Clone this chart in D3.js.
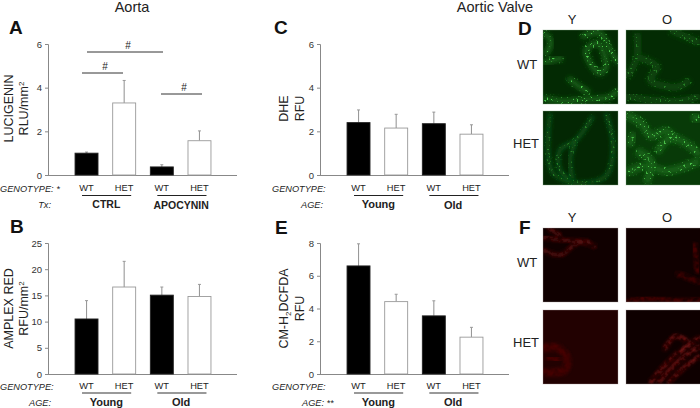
<!DOCTYPE html>
<html><head><meta charset="utf-8">
<script src="https://cdn.jsdelivr.net/npm/d3@7"></script>
<style>html,body{margin:0;padding:0;background:#fff}svg{display:block}text{font-family:"Liberation Sans",Arial,sans-serif;fill:#222}</style>
</head><body><svg id="c" width="700" height="408"></svg>
<script>
const genotypes = ["WT","HET","WT","HET"];
const lucigenin = [1.0,3.3,0.37,1.57];
const lucigeninTop = [1.05,4.33,0.47,2.02];
const amplex = [10.5,16.6,15.05,14.8];
const amplexTop = [14.0,21.5,16.6,17.1];
const dhe = [2.4,2.15,2.35,1.87];
const dheTop = [2.98,2.78,2.88,2.3];
const dcfda = [6.6,4.42,3.55,2.25];
const dcfdaTop = [7.95,4.87,4.47,2.85];
const ticksA = [0,2,4,6], ticksB = [0,5,10,15,20,25], ticksE = [0,2,4,6,8];

const svg = d3.select("#c");
const defs = svg.append("defs");
function speckle(id, freq, slope, cut, blur){
  const f = defs.append("filter").attr("id",id).attr("x","-20%").attr("y","-20%").attr("width","140%").attr("height","140%");
  f.append("feGaussianBlur").attr("in","SourceGraphic").attr("stdDeviation",blur).attr("result","b");
  f.append("feTurbulence").attr("type","fractalNoise").attr("baseFrequency",freq).attr("numOctaves",2).attr("seed",7).attr("result","n");
  f.append("feColorMatrix").attr("in","n").attr("type","matrix")
    .attr("values",`0 0 0 0 0 0 0 0 0 0 0 0 0 0 0 ${slope} 0 0 0 ${cut}`).attr("result","m");
  f.append("feComposite").attr("in","b").attr("in2","m").attr("operator","in");
}
speckle("spk",0.5,14,-8.9,1.8);
speckle("streak",0.2,2.4,-0.7,1.6);
defs.append("filter").attr("id","glow").attr("x","-30%").attr("y","-30%").attr("width","160%").attr("height","160%").append("feGaussianBlur").attr("stdDeviation",2.2);

function txt(x,y,s,o={}){
  return svg.append("text").attr("x",x).attr("y",y).attr("text-anchor",o.a||"middle")
    .attr("font-size",o.size||9).attr("font-weight",o.w||null).attr("font-style",o.i?"italic":null).text(s);
}

function panel(p){
  const g = svg.append("g");
  const y = d3.scaleLinear().domain([0,p.ticks[p.ticks.length-1]]).range([p.y0,p.y1]);
  const x = d3.scaleBand().domain(d3.range(4)).range([p.x0+19.7,p.x0+170.3]).paddingInner(0.39).paddingOuter(0.195);
  g.append("g").attr("transform",`translate(${p.x0},0)`)
    .call(d3.axisLeft(y).tickValues(p.ticks).tickSize(3).tickPadding(3).tickFormat(d3.format("d")))
    .call(a=>{a.selectAll("line,path").attr("stroke","#888");
      a.selectAll("text").attr("font-size",9.5).attr("font-family",'"Liberation Sans",Arial,sans-serif').style("fill","#333");});
  g.append("line").attr("x1",p.x0).attr("x2",p.x0+189).attr("y1",p.y0+.5).attr("y2",p.y0+.5).attr("stroke","#888");
  const data = p.vals.map((v,i)=>({v,t:p.tops[i],i}));
  const c = i=>x(i)+x.bandwidth()/2;
  g.selectAll(".e").data(data).join("line").attr("x1",d=>c(d.i)).attr("x2",d=>c(d.i))
    .attr("y1",d=>y(d.v)).attr("y2",d=>y(d.t)).attr("stroke","#999").attr("stroke-width",1.1);
  g.selectAll(".c").data(data).join("line").attr("x1",d=>c(d.i)-1.5).attr("x2",d=>c(d.i)+1.5)
    .attr("y1",d=>y(d.t)).attr("y2",d=>y(d.t)).attr("stroke","#999");
  g.selectAll(".b").data(data).join("rect").attr("x",d=>x(d.i)).attr("width",x.bandwidth())
    .attr("y",d=>y(d.v)).attr("height",d=>p.y0-y(d.v))
    .attr("fill",d=>d.i%2?"#fff":"#000").attr("stroke",d=>d.i%2?"#999":"#222").attr("stroke-width",.9);
  genotypes.forEach((s,i)=>txt(c(i),p.y0+p.off+16,s,{size:9.3}));
  txt(p.x0-48,p.y0+p.off+17,p.gLabel,{a:"start",i:1,size:9.2});
  txt(p.x0+(p.rowX||3),p.y0+p.off+33,p.rowLabel,{a:p.rowX?"start":"end",i:1,size:9.2});
  [[0,1],[2,3]].forEach(([a,b],k)=>{
    g.append("line").attr("x1",c(a)-4.5).attr("x2",c(b)+7).attr("y1",p.y0+p.off+20.5).attr("y2",p.y0+p.off+20.5)
      .attr("stroke",p.lineC).attr("stroke-width",p.lineW);
    txt((c(a)+c(b))/2+.5+(k?0:.5),p.y0+p.off+33+(k?.5:0),p.groups[k],{size:p.gSize||11,w:"bold"});
  });
  p.ylab.forEach(([s,dx])=>{
    const t = svg.append("text").attr("text-anchor","middle").attr("font-size",12.5)
      .attr("transform",`translate(${p.x0+dx},${(p.y0+p.y1)/2+p.yOff}) rotate(-90)`);
    s.forEach(([part,sub])=>{const ts=t.append("tspan").text(part);
      if(sub==="sup"||sub==="sub"){ts.attr("font-size",8).attr("dy",sub==="sup"?-4:3);}
      else if(sub==="after"){ts.attr("dy",-3);}});
  });
}

panel({x0:48,y0:175,y1:44,off:0,ticks:ticksA,vals:lucigenin,tops:lucigeninTop,gLabel:"GENOTYPE: *",rowLabel:"Tx:",groups:["CTRL","APOCYNIN"],lineC:"#222",lineW:1,gSize:10.5,yOff:-1,
  ylab:[[[["LUCIGENIN"]],-35],[[["RLU/mm"],["2","sup"]],-20]]});
panel({x0:48,y0:374,y1:243,off:-1.5,ticks:ticksB,vals:amplex,tops:amplexTop,gLabel:"GENOTYPE:",rowLabel:"AGE:",groups:["Young","Old"],lineC:"#777",lineW:1.6,yOff:0,
  ylab:[[[["AMPLEX RED"]],-35],[[["RFU/mm"],["2","sup"]],-20]]});
panel({x0:320,y0:175,y1:44,off:0,ticks:ticksA,vals:dhe,tops:dheTop,gLabel:"GENOTYPE:",rowLabel:"AGE:",groups:["Young","Old"],lineC:"#222",lineW:1,yOff:-1,
  ylab:[[[["DHE"]],-32],[[["RFU"]],-16]]});
panel({x0:320,y0:374,y1:243,off:-1.5,ticks:ticksE,vals:dcfda,tops:dcfdaTop,gLabel:"GENOTYPE:",rowLabel:"AGE: **",rowX:-18,groups:["Young","Old"],lineC:"#777",lineW:1.6,yOff:0,
  ylab:[[[["CM-H"],["2","sub"],["DCFDA","after"]],-32],[[["RFU"]],-16]]});

// significance brackets, panel A
const sigX1=[87,82,161], sigX2=[163,123,202], sigY=[52,73,94];
sigX1.forEach((a,i)=>{
  svg.append("line").attr("x1",a).attr("x2",sigX2[i]).attr("y1",sigY[i]).attr("y2",sigY[i]).attr("stroke","#333").attr("stroke-width",1);
  txt([128,105,184][i],sigY[i]-3.5,"#",{size:10});
});

txt(132,12,"Aorta",{size:14.5});
txt(495,12,"Aortic Valve",{size:14.5});
[["A",9,34],["B",10,233],["C",274,34],["E",275,234],["D",518,35],["F",519,234]].forEach(([s,x,y])=>
  txt(x,y,s,{a:"start",size:19,w:"bold"}).style("fill","#111"));

// micrographs
const col=[543,626], rowD=[30,111], rowF=[228,310], S=75;
[["D",rowD,[19,64,143]],["F",rowF,[217,262,342]]].forEach(([n,r,l])=>{
  txt(572,l[0]+5,"Y",{size:13}); txt(667,l[0]+5,"O",{size:13});
  txt(517,l[1]+5,"WT",{a:"start",size:13}); txt(513,l[2]+5,"HET",{a:"start",size:13});
});
const line=d3.line().curve(d3.curveCatmullRom.alpha(.5));
const gWY=[[[0,33],[10,30],[20,28]],[[25,48],[37,57],[47,63]],[[38,7],[57,3],[67,20],[75,33]],[[42,20],[47,33],[57,43],[63,37],[55,13],[42,20]],[[0,68],[17,71],[47,69],[67,67],[75,60]],[[0,2],[8,12],[2,25]]];
const gWO=[[[11,3],[11,27],[1,47]],[[11,27],[31,37],[24,50],[51,57],[64,50]],[[0,66],[24,70],[54,71],[74,66]],[[44,0],[74,13]]];
const gHY=[[[7,2],[5,39],[10,62],[33,72],[63,65],[70,35],[63,2]],[[50,5],[33,29],[17,39],[17,59],[27,69]],[[33,29],[27,49],[30,69]],[[0,0],[75,0]]];
const gHO=[[[0,4],[15,12],[25,25],[40,20],[50,30]],[[31,42],[44,27],[64,35],[74,45]],[[8,22],[3,35]],[[0,62],[20,55],[40,60],[74,50]],[[66,4],[74,10]],[[10,40],[25,50],[20,72]]];
const rWY=[[[0,22],[17,27],[37,14],[53,19]],[[0,9],[17,12],[47,14]],[[5,0],[18,8]]];
const rWO=[[[0,74],[24,70],[50,73],[75,72]],[[50,45],[75,55]],[[68,15],[72,45]]];
const rHY=[[[0,38],[15,38],[24,48],[22,60],[0,62]],[[4,48],[18,50]]];
const rHO=[[[24,73],[44,50],[74,27]],[[32,73],[52,52],[74,36]],[[42,73],[60,56],[74,46]],[[38,40],[50,26],[62,32]]];
function micro(x,y,o){
  const g=svg.append("g").attr("transform",`translate(${x},${y})`);
  const id=`cp${x}_${y}`;
  defs.append("clipPath").attr("id",id).append("rect").attr("width",S).attr("height",S-1);
  const b=g.append("g").attr("clip-path",`url(#${id})`);
  b.append("rect").attr("width",S).attr("height",S-1).attr("fill",o.bg);
  b.selectAll(".g").data(o.s).join("path").attr("d",line).attr("fill","none").attr("stroke",o.tissue)
    .attr("stroke-width",o.w).attr("filter","url(#glow)");
  b.selectAll(".s").data(o.s).join("path").attr("d",line).attr("fill","none").attr("stroke",o.dot)
    .attr("stroke-width",o.w+1).attr("filter",`url(#${o.f})`);
  g.append("rect").attr("width",S).attr("height",S-1).attr("fill","none").attr("stroke",o.edge).attr("stroke-opacity",.5).attr("stroke-width",.7);
}
micro(col[0],rowD[0],{bg:"#032a03",s:gWY,tissue:"#135a15",dot:"#4fd04f",w:6,f:"spk",edge:"#8a8"});
micro(col[1],rowD[0],{bg:"#032b03",s:gWO,tissue:"#0b440c",dot:"#258025",w:7,f:"spk",edge:"#8a8"});
micro(col[0],rowD[1],{bg:"#032703",s:gHY,tissue:"#10561a",dot:"#2a8a2a",w:3.5,f:"spk",edge:"#8a8"});
micro(col[1],rowD[1],{bg:"#083a08",s:gHO,tissue:"#135e16",dot:"#48c048",w:8,f:"spk",edge:"#8a8"});
micro(col[0],rowF[0],{bg:"#100000",s:rWY,tissue:"#350404",dot:"#520808",w:3,f:"streak",edge:"#a99"});
micro(col[1],rowF[0],{bg:"#100000",s:rWO,tissue:"#280303",dot:"#480606",w:4,f:"streak",edge:"#a99"});
micro(col[0],rowF[1],{bg:"#220101",s:rHY,tissue:"#3a0404",dot:"#470606",w:6,f:"streak",edge:"#a99"});
micro(col[1],rowF[1],{bg:"#0e0000",s:rHO,tissue:"#420606",dot:"#781212",w:2.5,f:"streak",edge:"#a99"});
</script></body></html>
